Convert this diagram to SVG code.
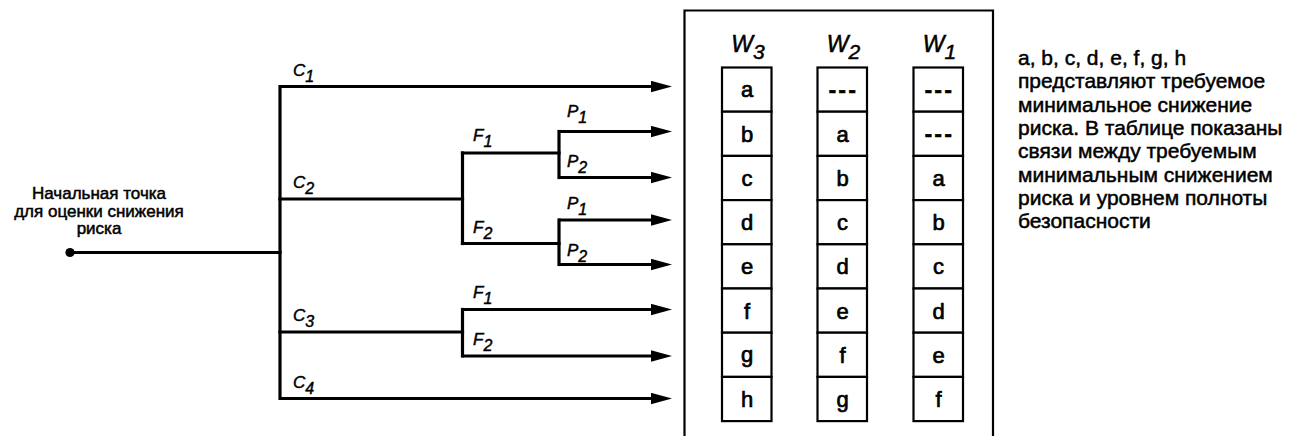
<svg xmlns="http://www.w3.org/2000/svg" width="1297" height="436" viewBox="0 0 1297 436">
  <style>
    .ln { fill: none; stroke: #000; stroke-width: 3.2; stroke-linejoin: miter; stroke-linecap: square; }
    .arr { fill: none; stroke: #000; stroke-width: 3.2; stroke-linecap: butt; marker-end: url(#ah); }
    .lbl { font-family: "Liberation Sans", Arial, sans-serif; font-style: italic; font-size: 17px; fill: #000; stroke: #000; stroke-width: 0.45; }
    .sub { font-size: 16px; }
    .wl { font-family: "Liberation Sans", Arial, sans-serif; font-style: italic; font-size: 23px; fill: #000; stroke: #000; stroke-width: 0.5; text-anchor: middle; }
    .wsub { font-size: 21px; }
    .cell { fill: #fff; stroke: #000; stroke-width: 2.2; }
    .ct { font-family: "Liberation Sans", Arial, sans-serif; font-size: 22px; fill: #000; stroke: #000; stroke-width: 0.7; text-anchor: middle; }
    .dash { font-weight: bold; letter-spacing: 2.5px; }
    .txt { font-family: "Liberation Sans", Arial, sans-serif; fill: #000; stroke: #000; stroke-width: 0.5; }
    .start { font-size: 17px; text-anchor: middle; }
    .legend { font-size: 21px; }
    .frame { fill: none; stroke: #000; stroke-width: 2.2; }
  </style>
  <defs>
    <marker id="ah" markerUnits="userSpaceOnUse" markerWidth="21" markerHeight="12" viewBox="0 0 21 12" refX="1" refY="6" orient="auto">
      <polygon points="0,0.3 21,6 0,11.7" fill="#000"/>
    </marker>
  </defs>
  <rect width="1297" height="436" fill="#fff"/>

  <g id="connectors">
    <path class="ln" d="M70,252.5 H280"/>
    <path class="ln" d="M280,86.5 V398.5"/>
    <path class="arr" d="M280,86.5 H652"/>
    <path class="ln" d="M280,199 H462.5"/>
    <path class="ln" d="M462.5,153 V243.5"/>
    <path class="ln" d="M462.5,153 H559"/>
    <path class="ln" d="M462.5,243.5 H559"/>
    <path class="ln" d="M559,131.5 V177.5"/>
    <path class="arr" d="M559,131.5 H652"/>
    <path class="arr" d="M559,177.5 H652"/>
    <path class="ln" d="M559,220 V264.5"/>
    <path class="arr" d="M559,220 H652"/>
    <path class="arr" d="M559,264.5 H652"/>
    <path class="ln" d="M280,332 H462.5"/>
    <path class="ln" d="M462.5,309.5 V356"/>
    <path class="arr" d="M462.5,309.5 H652"/>
    <path class="arr" d="M462.5,356 H652"/>
    <path class="arr" d="M280,398.5 H652"/>
  </g>

  <g id="start-point">
    <circle cx="70" cy="252.5" r="4.6" fill="#000"/>
    <text class="txt start" x="99" y="199">Начальная точка</text>
    <text class="txt start" x="99" y="216.5">для оценки снижения</text>
    <text class="txt start" x="99" y="234">риска</text>
  </g>

  <g id="branch-labels">
    <text class="lbl" x="293" y="75.5">C<tspan class="sub" dy="6">1</tspan></text>
    <text class="lbl" x="293" y="188">C<tspan class="sub" dy="6">2</tspan></text>
    <text class="lbl" x="293" y="321">C<tspan class="sub" dy="6">3</tspan></text>
    <text class="lbl" x="293" y="387.5">C<tspan class="sub" dy="6">4</tspan></text>
    <text class="lbl" x="473" y="140.5">F<tspan class="sub" dy="6">1</tspan></text>
    <text class="lbl" x="473" y="233">F<tspan class="sub" dy="6">2</tspan></text>
    <text class="lbl" x="567" y="117">P<tspan class="sub" dy="6">1</tspan></text>
    <text class="lbl" x="567" y="166.5">P<tspan class="sub" dy="6">2</tspan></text>
    <text class="lbl" x="567" y="208.5">P<tspan class="sub" dy="6">1</tspan></text>
    <text class="lbl" x="567" y="256">P<tspan class="sub" dy="6">2</tspan></text>
    <text class="lbl" x="473" y="297.5">F<tspan class="sub" dy="6">1</tspan></text>
    <text class="lbl" x="473" y="345">F<tspan class="sub" dy="6">2</tspan></text>
  </g>

  <g id="table">
    <path class="frame" d="M684.5,440 V10.5 H993 V440"/>
    <g id="col-w3">
      <text class="wl" x="748" y="51.5">W<tspan class="wsub" dy="7">3</tspan></text>
      <rect class="cell" x="722" y="67.5" width="49.5" height="44.2"/>
      <rect class="cell" x="722" y="111.7" width="49.5" height="44.2"/>
      <rect class="cell" x="722" y="155.9" width="49.5" height="44.2"/>
      <rect class="cell" x="722" y="200.1" width="49.5" height="44.2"/>
      <rect class="cell" x="722" y="244.3" width="49.5" height="44.2"/>
      <rect class="cell" x="722" y="288.5" width="49.5" height="44.2"/>
      <rect class="cell" x="722" y="332.7" width="49.5" height="44.2"/>
      <rect class="cell" x="722" y="376.9" width="49.5" height="44.2"/>
      <text class="ct" x="747" y="97">a</text>
      <text class="ct" x="747" y="141.5">b</text>
      <text class="ct" x="747" y="185.5">c</text>
      <text class="ct" x="747" y="230">d</text>
      <text class="ct" x="747" y="274">e</text>
      <text class="ct" x="747" y="318.5">f</text>
      <text class="ct" x="747" y="362">g</text>
      <text class="ct" x="747" y="407">h</text>
    </g>
    <g id="col-w2">
      <text class="wl" x="843.5" y="51.5">W<tspan class="wsub" dy="7">2</tspan></text>
      <rect class="cell" x="817.5" y="67.5" width="49.5" height="44.2"/>
      <rect class="cell" x="817.5" y="111.7" width="49.5" height="44.2"/>
      <rect class="cell" x="817.5" y="155.9" width="49.5" height="44.2"/>
      <rect class="cell" x="817.5" y="200.1" width="49.5" height="44.2"/>
      <rect class="cell" x="817.5" y="244.3" width="49.5" height="44.2"/>
      <rect class="cell" x="817.5" y="288.5" width="49.5" height="44.2"/>
      <rect class="cell" x="817.5" y="332.7" width="49.5" height="44.2"/>
      <rect class="cell" x="817.5" y="376.9" width="49.5" height="44.2"/>
      <text class="ct dash" x="843.5" y="97">---</text>
      <text class="ct" x="842.5" y="141.5">a</text>
      <text class="ct" x="842.5" y="185.5">b</text>
      <text class="ct" x="842.5" y="230">c</text>
      <text class="ct" x="842.5" y="274">d</text>
      <text class="ct" x="842.5" y="318.5">e</text>
      <text class="ct" x="842.5" y="362.5">f</text>
      <text class="ct" x="842.5" y="406.5">g</text>
    </g>
    <g id="col-w1">
      <text class="wl" x="939.5" y="51.5">W<tspan class="wsub" dy="7">1</tspan></text>
      <rect class="cell" x="913.5" y="67.5" width="49.5" height="44.2"/>
      <rect class="cell" x="913.5" y="111.7" width="49.5" height="44.2"/>
      <rect class="cell" x="913.5" y="155.9" width="49.5" height="44.2"/>
      <rect class="cell" x="913.5" y="200.1" width="49.5" height="44.2"/>
      <rect class="cell" x="913.5" y="244.3" width="49.5" height="44.2"/>
      <rect class="cell" x="913.5" y="288.5" width="49.5" height="44.2"/>
      <rect class="cell" x="913.5" y="332.7" width="49.5" height="44.2"/>
      <rect class="cell" x="913.5" y="376.9" width="49.5" height="44.2"/>
      <text class="ct dash" x="939.5" y="97">---</text>
      <text class="ct dash" x="939.5" y="141.3">---</text>
      <text class="ct" x="938.5" y="185.5">a</text>
      <text class="ct" x="938.5" y="230">b</text>
      <text class="ct" x="938.5" y="274">c</text>
      <text class="ct" x="938.5" y="318.5">d</text>
      <text class="ct" x="938.5" y="362.5">e</text>
      <text class="ct" x="938.5" y="406.5">f</text>
    </g>
  </g>

  <g id="legend">
    <text class="txt legend" x="1018" y="65">a, b, c, d, e, f, g, h</text>
    <text class="txt legend" x="1018" y="88.3">представляют требуемое</text>
    <text class="txt legend" x="1018" y="111.7">минимальное снижение</text>
    <text class="txt legend" x="1018" y="135">риска. В таблице показаны</text>
    <text class="txt legend" x="1018" y="158.3">связи между требуемым</text>
    <text class="txt legend" x="1018" y="181.7">минимальным снижением</text>
    <text class="txt legend" x="1018" y="205">риска и уровнем полноты</text>
    <text class="txt legend" x="1018" y="228.3">безопасности</text>
  </g>
</svg>
